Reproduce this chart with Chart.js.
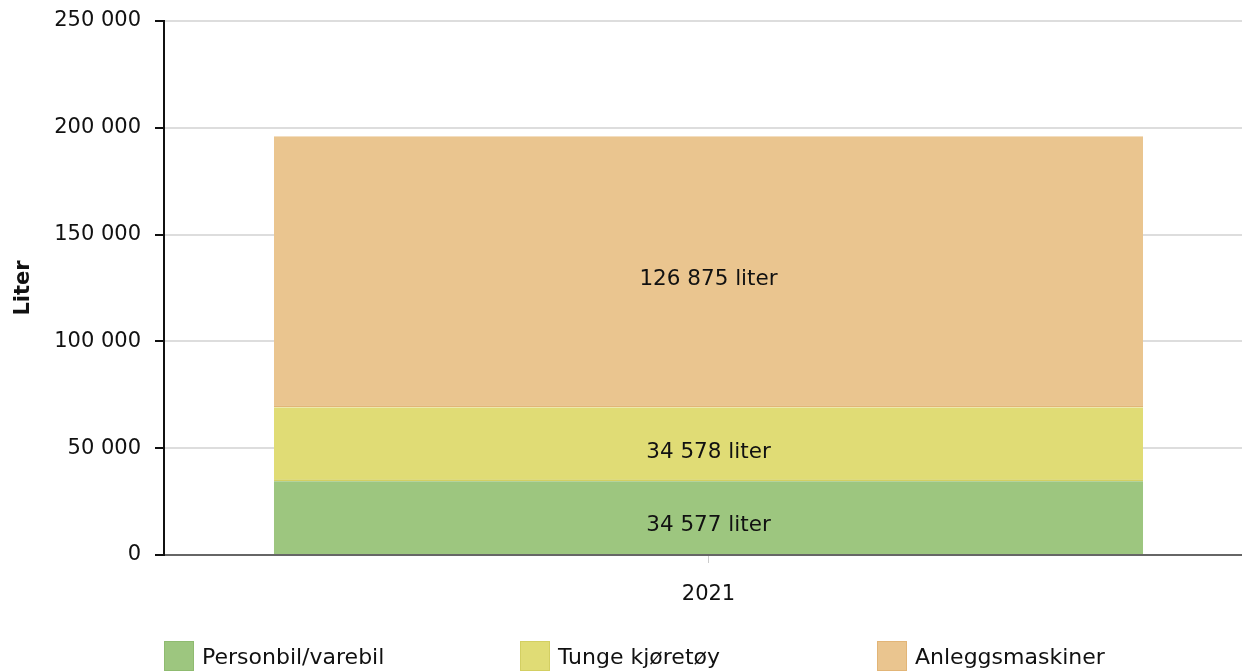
<!DOCTYPE html>
<html>
<head>
<meta charset="utf-8">
<script src="https://cdn.jsdelivr.net/npm/chart.js@4"></script>
<style>
html,body{margin:0;padding:0;background:#fff;overflow:hidden;}
#wrap{position:relative;width:1242px;height:672px;overflow:hidden;}
#cv{position:absolute;left:0;top:0;}
.leg{position:absolute;top:641px;height:30px;display:flex;align-items:center;font-family:"DejaVu Sans",Verdana,sans-serif;font-size:22px;color:#111;white-space:nowrap;}
.leg span.box{display:inline-block;width:28px;height:28px;margin-right:8px;box-sizing:content-box;}
</style>
</head>
<body>
<div id="wrap">
<canvas id="cv" width="1253" height="672" style="width:1253px;height:672px"></canvas>
<div id="legend"></div>
</div>
<script>
const categories = ['2021'];
const seriesNames = ['Personbil/varebil', 'Tunge kjøretøy', 'Anleggsmaskiner'];
const personbil = [34577];
const tunge = [34578];
const anlegg = [126875];
const yTicks = [0, 50000, 100000, 150000, 200000, 250000];
const axisTitle = 'Liter';
const unit = 'liter';

const fills = ['#9dc67f', '#e0dc75', '#eac58f'];
const borders = ['#8fbb70', '#d3cf62', '#e2b577'];
const FONT = '"DejaVu Sans", Verdana, sans-serif';
const FS = 21;

function fmt(v){ return String(v).replace(/\B(?=(\d{3})+(?!\d))/g, ' '); }

const valuesList = [personbil, tunge, anlegg];
const datasets = valuesList.map((vals, i) => ({
  label: seriesNames[i],
  data: vals,
  backgroundColor: fills[i],
  borderColor: borders[i],
  borderWidth: {top: 0, bottom: i === 0 ? 0 : 2, left: 0, right: 0},
  borderSkipped: false,
  barPercentage: 0.798,
  categoryPercentage: 1.0
}));

const labelPlugin = {
  id: 'segLabels',
  afterDatasetsDraw(chart){
    const ctx = chart.ctx;
    ctx.save();
    ctx.font = '21.5px ' + FONT;
    ctx.fillStyle = '#111';
    ctx.textAlign = 'center';
    ctx.textBaseline = 'middle';
    chart.data.datasets.forEach((ds, di) => {
      const meta = chart.getDatasetMeta(di);
      meta.data.forEach((bar, j) => {
        const p = bar.getProps(['x','y','base'], true);
        const cy = (p.y + p.base) / 2 + 8;
        ctx.fillText(fmt(ds.data[j]) + ' ' + unit, p.x, cy);
      });
    });
    ctx.restore();
  }
};

new Chart(document.getElementById('cv'), {
  type: 'bar',
  data: { labels: categories, datasets },
  plugins: [labelPlugin],
  options: {
    responsive: false,
    animation: false,
    layout: { padding: { top: 21, left: 0, right: 0, bottom: 0 } },
    plugins: { legend: { display: false }, tooltip: { enabled: false } },
    scales: {
      x: {
        stacked: true,
        grid: { offset: false, drawOnChartArea: false, drawTicks: true, tickLength: 8, tickColor: '#ccc' },
        border: { color: '#666', width: 2 },
        ticks: { font: { family: FONT, size: FS }, color: '#111', padding: 19 },
        afterFit(s){ s.height = 117; s.paddingLeft = 0; s.paddingRight = 0; }
      },
      y: {
        stacked: true,
        min: 0, max: 250000,
        afterBuildTicks(s){ s.ticks = yTicks.map(v => ({value: v})); },
        grid: { color: '#dddddd', lineWidth: 2, tickLength: 9, tickColor: '#111' },
        border: { color: '#111', width: 2 },
        ticks: { font: { family: FONT, size: FS }, color: '#111', padding: 14, callback: v => fmt(v) },
        title: { display: true, text: axisTitle, font: { family: FONT, size: FS, weight: 'bold' }, color: '#111', padding: { top: 11, bottom: 0 } },
        afterFit(s){ s.width = 164; s.paddingTop = 0; s.paddingBottom = 0; }
      }
    }
  }
});

const legX = [164, 520, 877];
const legend = document.getElementById('legend');
seriesNames.forEach((n, i) => {
  const d = document.createElement('div');
  d.className = 'leg';
  d.style.left = legX[i] + 'px';
  d.innerHTML = '<span class="box" style="background:' + fills[i] + ';border:1px solid ' + borders[i] + '"></span>' + n;
  legend.appendChild(d);
});
</script>
</body>
</html>
